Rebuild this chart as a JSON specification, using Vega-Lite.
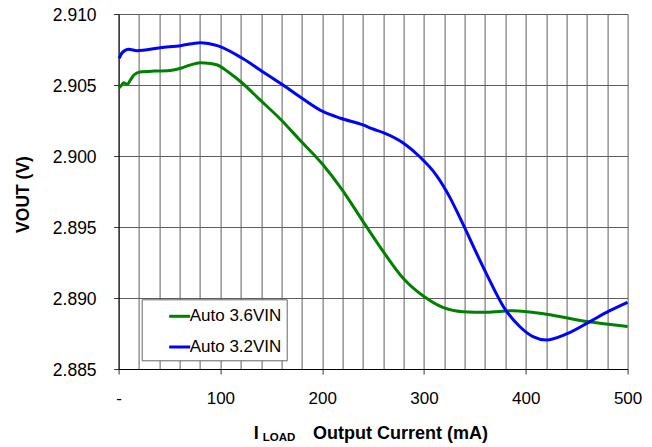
{
  "$schema": "https://vega.github.io/schema/vega-lite/v6.json",
  "width": 509,
  "height": 355,
  "autosize": "none",
  "padding": {"left": 118.6, "top": 14, "right": 24.4, "bottom": 78},
  "background": "white",
  "config": {"view": {"stroke": null}, "font": "Liberation Sans"},
  "data": {
    "values": [
      {"current": 0.5, "vout": 2.9048, "series": "Auto 3.6VIN"},
      {"current": 3, "vout": 2.905, "series": "Auto 3.6VIN"},
      {"current": 5, "vout": 2.90515, "series": "Auto 3.6VIN"},
      {"current": 8.5, "vout": 2.90505, "series": "Auto 3.6VIN"},
      {"current": 12, "vout": 2.9054, "series": "Auto 3.6VIN"},
      {"current": 15, "vout": 2.9057, "series": "Auto 3.6VIN"},
      {"current": 21, "vout": 2.90592, "series": "Auto 3.6VIN"},
      {"current": 35, "vout": 2.90598, "series": "Auto 3.6VIN"},
      {"current": 48, "vout": 2.906, "series": "Auto 3.6VIN"},
      {"current": 61, "vout": 2.90618, "series": "Auto 3.6VIN"},
      {"current": 70, "vout": 2.9064, "series": "Auto 3.6VIN"},
      {"current": 80, "vout": 2.90657, "series": "Auto 3.6VIN"},
      {"current": 90, "vout": 2.90652, "series": "Auto 3.6VIN"},
      {"current": 97, "vout": 2.90641, "series": "Auto 3.6VIN"},
      {"current": 108, "vout": 2.9059, "series": "Auto 3.6VIN"},
      {"current": 120, "vout": 2.90523, "series": "Auto 3.6VIN"},
      {"current": 139, "vout": 2.90395, "series": "Auto 3.6VIN"},
      {"current": 159, "vout": 2.90259, "series": "Auto 3.6VIN"},
      {"current": 178, "vout": 2.90113, "series": "Auto 3.6VIN"},
      {"current": 200, "vout": 2.89945, "series": "Auto 3.6VIN"},
      {"current": 220, "vout": 2.89758, "series": "Auto 3.6VIN"},
      {"current": 240, "vout": 2.8954, "series": "Auto 3.6VIN"},
      {"current": 260, "vout": 2.89327, "series": "Auto 3.6VIN"},
      {"current": 280, "vout": 2.89135, "series": "Auto 3.6VIN"},
      {"current": 300, "vout": 2.8901, "series": "Auto 3.6VIN"},
      {"current": 319, "vout": 2.88932, "series": "Auto 3.6VIN"},
      {"current": 338, "vout": 2.88904, "series": "Auto 3.6VIN"},
      {"current": 361, "vout": 2.889, "series": "Auto 3.6VIN"},
      {"current": 388, "vout": 2.88911, "series": "Auto 3.6VIN"},
      {"current": 420, "vout": 2.88886, "series": "Auto 3.6VIN"},
      {"current": 460, "vout": 2.88834, "series": "Auto 3.6VIN"},
      {"current": 500, "vout": 2.88799, "series": "Auto 3.6VIN"},
      {"current": 0.5, "vout": 2.90688, "series": "Auto 3.2VIN"},
      {"current": 3.6, "vout": 2.90728, "series": "Auto 3.2VIN"},
      {"current": 10, "vout": 2.90751, "series": "Auto 3.2VIN"},
      {"current": 18, "vout": 2.90742, "series": "Auto 3.2VIN"},
      {"current": 41, "vout": 2.90763, "series": "Auto 3.2VIN"},
      {"current": 61, "vout": 2.90777, "series": "Auto 3.2VIN"},
      {"current": 80, "vout": 2.90798, "series": "Auto 3.2VIN"},
      {"current": 97, "vout": 2.90777, "series": "Auto 3.2VIN"},
      {"current": 120, "vout": 2.90695, "series": "Auto 3.2VIN"},
      {"current": 139, "vout": 2.90606, "series": "Auto 3.2VIN"},
      {"current": 160, "vout": 2.90507, "series": "Auto 3.2VIN"},
      {"current": 178, "vout": 2.90418, "series": "Auto 3.2VIN"},
      {"current": 201, "vout": 2.90312, "series": "Auto 3.2VIN"},
      {"current": 218, "vout": 2.90266, "series": "Auto 3.2VIN"},
      {"current": 240, "vout": 2.90219, "series": "Auto 3.2VIN"},
      {"current": 250, "vout": 2.9019, "series": "Auto 3.2VIN"},
      {"current": 260, "vout": 2.90165, "series": "Auto 3.2VIN"},
      {"current": 280, "vout": 2.9009, "series": "Auto 3.2VIN"},
      {"current": 295, "vout": 2.9, "series": "Auto 3.2VIN"},
      {"current": 312, "vout": 2.89866, "series": "Auto 3.2VIN"},
      {"current": 325, "vout": 2.89714, "series": "Auto 3.2VIN"},
      {"current": 335, "vout": 2.8957, "series": "Auto 3.2VIN"},
      {"current": 361, "vout": 2.89175, "series": "Auto 3.2VIN"},
      {"current": 379, "vout": 2.88928, "series": "Auto 3.2VIN"},
      {"current": 394, "vout": 2.88799, "series": "Auto 3.2VIN"},
      {"current": 407, "vout": 2.88728, "series": "Auto 3.2VIN"},
      {"current": 420, "vout": 2.88705, "series": "Auto 3.2VIN"},
      {"current": 440, "vout": 2.88747, "series": "Auto 3.2VIN"},
      {"current": 463, "vout": 2.88834, "series": "Auto 3.2VIN"},
      {"current": 482, "vout": 2.88909, "series": "Auto 3.2VIN"},
      {"current": 500, "vout": 2.8897, "series": "Auto 3.2VIN"}
    ]
  },
  "layer": [
    {
      "transform": [{"filter": "datum.series === 'Auto 3.6VIN'"}],
      "mark": {"type": "line", "strokeWidth": 3, "interpolate": "monotone"},
      "encoding": {
        "x": {
          "field": "current", "type": "quantitative",
          "scale": {"domain": [0, 500], "nice": false},
          "axis": {
            "values": [0,20,40,60,80,100,120,140,160,180,200,220,240,260,280,300,320,340,360,380,400,420,440,460,480,500],
            "grid": true, "gridColor": "#5e5e5e", "gridWidth": 1,
            "domainColor": "#000000", "domainWidth": 1,
            "tickColor": {"condition": {"test": "datum.value % 100 === 0", "value": "#333333"}, "value": "transparent"},
            "tickSize": 5,
            "labelExpr": "datum.value === 0 ? '-' : (datum.value % 100 === 0 ? datum.label : '')",
            "labelFontSize": 17, "labelColor": "#000000", "labelPadding": 16.5,
            "labelOverlap": false, "labelFlush": false,
            "title": "I", "titleFontSize": 18, "titleFontWeight": "bold", "titleColor": "#000000",
            "titleX": 134.7, "titleY": 69.5, "titleAlign": "left", "titleBaseline": "alphabetic"
          }
        },
        "y": {
          "field": "vout", "type": "quantitative",
          "scale": {"domain": [2.885, 2.91], "nice": false, "zero": false},
          "axis": {
            "values": [2.885, 2.89, 2.895, 2.9, 2.905, 2.91],
            "format": ".3f",
            "grid": true, "gridColor": "#5e5e5e", "gridWidth": 1,
            "domainColor": "#000000", "domainWidth": 1,
            "tickColor": "#333333", "tickSize": 5,
            "labelFontSize": 17.5, "labelColor": "#000000", "labelPadding": 17.5, "labelOffset": 1,
            "title": "VOUT (V)", "titleFontSize": 17.5, "titleFontWeight": "bold", "titleColor": "#000000",
            "titleX": -95.3, "titleY": 180, "titleAngle": 270, "titleAlign": "center", "titleBaseline": "middle"
          }
        },
        "color": {
          "field": "series", "type": "nominal",
          "scale": {"domain": ["Auto 3.6VIN", "Auto 3.2VIN"], "range": ["#008000", "#0000FF"]},
          "legend": {
            "orient": "none", "legendX": 23.1, "legendY": 285.3,
            "title": null,
            "strokeColor": "#666666", "fillColor": "white", "padding": 5,
            "symbolType": "stroke", "symbolSize": 441, "symbolStrokeWidth": 3,
            "symbolOffset": 21,
            "labelFontSize": 17, "labelColor": "#000000", "labelOffset": -2,
            "rowPadding": 10.7,
            "labelExpr": "datum.label + '\u00a0\u00a0\u00a0\u00a0\u00a0\u00a0'"
          }
        }
      }
    },
    {
      "transform": [{"filter": "datum.series === 'Auto 3.2VIN'"}],
      "mark": {"type": "line", "strokeWidth": 3, "interpolate": "monotone"},
      "encoding": {
        "x": {
          "field": "current", "type": "quantitative",
          "axis": {
            "orient": "bottom", "grid": false, "labels": false, "ticks": false, "domain": false,
            "title": "Output Current (mA)", "titleFontSize": 18, "titleFontWeight": "bold", "titleColor": "#000000",
            "titleX": 194, "titleY": 69.5, "titleAlign": "left", "titleBaseline": "alphabetic"
          }
        },
        "y": {
          "field": "vout", "type": "quantitative",
          "axis": {
            "orient": "right", "grid": false, "labels": false, "ticks": false, "domain": false,
            "title": "LOAD", "titleAngle": 0, "titleFontSize": 11.5, "titleFontWeight": "bold", "titleColor": "#000000",
            "titleX": -365.3, "titleY": 426.5, "titleAlign": "left", "titleBaseline": "alphabetic"
          }
        },
        "color": {"field": "series", "type": "nominal"}
      }
    }
  ],
  "resolve": {"axis": {"x": "independent", "y": "independent"}}
}
